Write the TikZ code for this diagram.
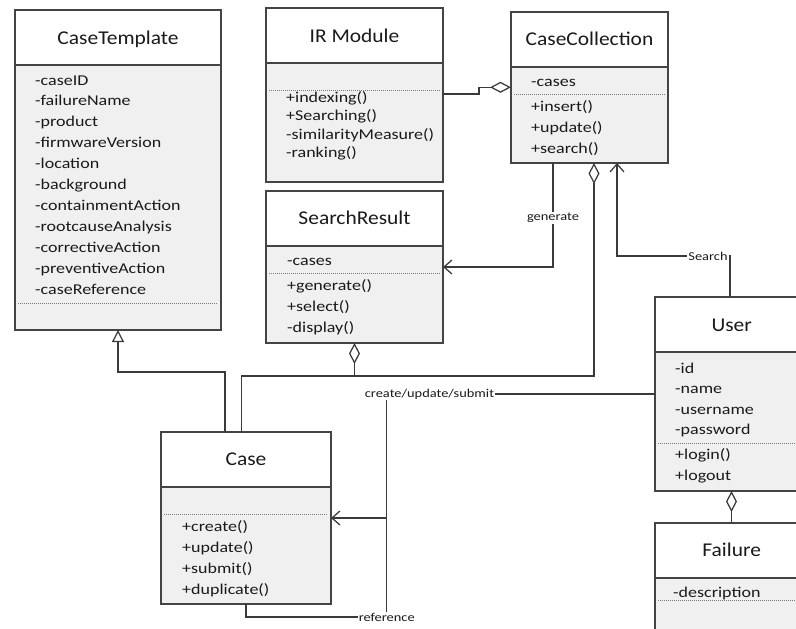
\documentclass[tikz,border=0pt]{standalone}
\usepackage{fontspec}
\setmainfont{Carlito}
\newfontfamily\titlefont[FakeStretch=1.1]{Carlito}
\newfontfamily\itemfont[FakeStretch=1.2]{Carlito}
\usetikzlibrary{arrows.meta,calc}
\definecolor{boxline}{HTML}{444444}
\definecolor{bodyfill}{HTML}{F0F0F0}
\definecolor{lncol}{HTML}{3A3A3A}
\definecolor{sepcol}{HTML}{7A7A7A}
\definecolor{txt}{HTML}{1A1A1A}
\begin{document}
\begin{tikzpicture}[x=1pt,y=-1pt,
  hdr/.style={draw=boxline, fill=white, line width=1.3pt, minimum height=55pt, inner sep=0pt, outer sep=0pt, anchor=north west},
  bdy/.style={draw=boxline, fill=bodyfill, line width=1.3pt, inner sep=0pt, outer sep=0pt, anchor=north west},
  ttl/.style={anchor=base, font=\titlefont\fontsize{19.5}{22}\selectfont, text=txt, inner sep=0pt},
  itm/.style={anchor=base west, font=\itemfont\fontsize{15}{18}\selectfont, text=txt, inner sep=0pt},
  sep/.style={draw=sepcol, line width=0.9pt, dash pattern=on 1pt off 1pt},
  conn/.style={draw=lncol, line width=1.25pt},
  lbl/.style={font=\itemfont\fontsize{12}{14}\selectfont, text=txt, fill=white, inner sep=1pt},
  agg/.style={-{Diamond[open, length=21pt, width=11pt]}},
  nav/.style={-{Straight Barb[length=8pt,width=14pt]}},
  gen/.style={-{Triangle[open, length=12pt, width=12pt]}}
]
\useasboundingbox (0,0) rectangle (796,629);
\clip (0,0) rectangle (796,629);

% ---------- CaseTemplate
\node[hdr, minimum width=206pt] (ctH) at (15,10) {};
\node[bdy, minimum width=206pt, minimum height=265pt] (ctB) at (15,65) {};
\node[ttl] (ctT) at (118,44) {CaseTemplate};
\foreach \t [count=\i] in {-caseID,-failureName,-product,-firmwareVersion,-location,-background,-containmentAction,-rootcauseAnalysis,-correctiveAction,-preventiveAction,-caseReference}
  \node[itm] (ct\i) at (35,{85+20.9*(\i-1)}) {\t};
\draw[sep] (18,303) -- (218,303);

% ---------- IR Module
\node[hdr, minimum width=177pt] (irH) at (266,8) {};
\node[bdy, minimum width=177pt, minimum height=119pt] (irB) at (266,63) {};
\node[ttl] (irT) at (354.5,42.7) {IR Module};
\draw[sep] (269,90) -- (440,90);
\node[itm] (ir1) at (286,102) {+indexing()};
\node[itm] (ir2) at (286,120.5) {+Searching()};
\node[itm] (ir3) at (286,139) {-similarityMeasure()};
\node[itm] (ir4) at (286,157.5) {-ranking()};

% ---------- CaseCollection
\node[hdr, minimum width=157pt] (ccH) at (511,12) {};
\node[bdy, minimum width=157pt, minimum height=96pt] (ccB) at (511,67) {};
\node[ttl] (ccT) at (589.5,45.3) {CaseCollection};
\node[itm] (cc1) at (531,86) {-cases};
\draw[sep] (514,94) -- (665,94);
\node[itm] (cc2) at (531,111.5) {+insert()};
\node[itm] (cc3) at (531,132.5) {+update()};
\node[itm] (cc4) at (531,153) {+search()};

% ---------- SearchResult
\node[hdr, minimum width=177pt] (srH) at (266,191) {};
\node[bdy, minimum width=177pt, minimum height=97pt] (srB) at (266,246) {};
\node[ttl] (srT) at (354.5,224.3) {SearchResult};
\node[itm] (sr1) at (287,265) {-cases};
\draw[sep] (269,273) -- (440,273);
\node[itm] (sr2) at (287,290.5) {+generate()};
\node[itm] (sr3) at (287,311) {+select()};
\node[itm] (sr4) at (287,332.5) {-display()};

% ---------- Case
\node[hdr, minimum width=170pt] (caH) at (161,432) {};
\node[bdy, minimum width=170pt, minimum height=117pt] (caB) at (161,487) {};
\node[ttl] (caT) at (246,465.3) {Case};
\draw[sep] (164,514) -- (328,514);
\node[itm] (ca1) at (182,531) {+create()};
\node[itm] (ca2) at (182,552.5) {+update()};
\node[itm] (ca3) at (182,573.5) {+submit()};
\node[itm] (ca4) at (182,594.5) {+duplicate()};

% ---------- User
\node[hdr, minimum width=153pt] (uH) at (655,297) {};
\node[bdy, minimum width=153pt, minimum height=139pt] (uB) at (655,352) {};
\node[ttl] (uT) at (731.7,331) {User};
\node[itm] (u1) at (675,373) {-id};
\node[itm] (u2) at (675,393.5) {-name};
\node[itm] (u3) at (675,414) {-username};
\node[itm] (u4) at (675,434.5) {-password};
\draw[sep] (658,443) -- (796,443);
\node[itm] (u5) at (675,459.5) {+login()};
\node[itm] (u6) at (675,480.5) {+logout};

% ---------- Failure
\node[hdr, minimum width=153pt] (fH) at (655,523) {};
\node[bdy, minimum width=153pt, minimum height=80pt] (fB) at (655,578) {};
\node[ttl] (fT) at (731.7,556.7) {Failure};
\node[itm] (f1) at (673,597) {-description};
\draw[sep] (658,600) -- (796,600);

% ---------- connectors
% IR Module -- CaseCollection (aggregation)
\draw[conn,agg] ([yshift=-31pt]irB.north east) -- ++(36,0) -- ++(0,-6.7) -- ([yshift=-20.3pt]ccB.north west);
% CaseCollection -> SearchResult (generate)
\draw[conn,nav] ([xshift=42pt]ccB.south west) |- ([yshift=-21pt]srB.north east);
% Case -- CaseCollection (aggregation)
\draw[conn,agg] ([xshift=80.7pt]caH.north west) -- ++(0,-56) -| ([xshift=83pt]ccB.south west);
% SearchResult aggregation
\draw[conn,agg] ([yshift=-33pt]srB.south) -- (srB.south);
% User -> CaseCollection (Search)
\draw[conn,nav] ([xshift=75pt]uH.north west) -- ++(0,-41) -| ([xshift=106pt]ccB.south west);
% Case -> CaseTemplate (generalisation)
\draw[conn,gen] ([xshift=64pt]caH.north west) -- ++(0,-60) -| ([xshift=103pt]ctB.south west);
% User -- Failure (aggregation)
\draw[conn,agg] (fH.north) -- (uB.south);

% labels
\node[lbl] (gen) at (553,218) {generate};
\node[lbl] (srch) at (708,256) {Search};
\node[lbl] (cus) at (429.5,394) {create/update/submit};
\node[lbl] (ref) at (386.7,617) {reference};
\coordinate (jn) at (386.7,518);

\draw[conn] ([yshift=-42pt]uB.north west) -- (cus.east);
\draw[conn] (cus.south -| ref.north) -- (ref.north);
\draw[conn,nav] (jn) -- (jn -| caB.east);
\draw[conn] ([xshift=85pt]caB.south west) |- (ref.west);
\end{tikzpicture}
\end{document}
